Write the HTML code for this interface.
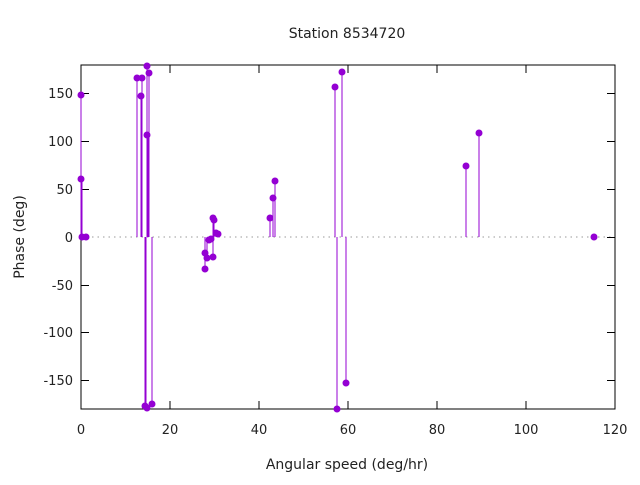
<!DOCTYPE html>
<html><head><style>body{margin:0;background:#fff}svg text{font-family:"DejaVu Sans","Liberation Sans",sans-serif;font-size:13px;fill:#222}</style></head><body>
<svg width="640" height="480" xmlns="http://www.w3.org/2000/svg">
<line x1="81" y1="237" x2="615" y2="237" stroke="#999" stroke-dasharray="1.5,4"/>
<g stroke="#000" stroke-width="1">
<rect x="81" y="65" width="534" height="344" fill="none"/>
<line x1="81" y1="93.5" x2="89" y2="93.5"/><line x1="81" y1="141.5" x2="89" y2="141.5"/><line x1="81" y1="189.5" x2="89" y2="189.5"/><line x1="81" y1="237.5" x2="89" y2="237.5"/><line x1="81" y1="285.5" x2="89" y2="285.5"/><line x1="81" y1="332.5" x2="89" y2="332.5"/><line x1="81" y1="380.5" x2="89" y2="380.5"/>
<line x1="607" y1="93.5" x2="615" y2="93.5"/><line x1="607" y1="141.5" x2="615" y2="141.5"/><line x1="607" y1="189.5" x2="615" y2="189.5"/><line x1="607" y1="237.5" x2="615" y2="237.5"/><line x1="607" y1="285.5" x2="615" y2="285.5"/><line x1="607" y1="332.5" x2="615" y2="332.5"/><line x1="607" y1="380.5" x2="615" y2="380.5"/>
<line x1="170" y1="409" x2="170" y2="401"/><line x1="259" y1="409" x2="259" y2="401"/><line x1="348" y1="409" x2="348" y2="401"/><line x1="437" y1="409" x2="437" y2="401"/><line x1="526" y1="409" x2="526" y2="401"/>
<line x1="170" y1="65" x2="170" y2="73"/><line x1="259" y1="65" x2="259" y2="73"/><line x1="348" y1="65" x2="348" y2="73"/><line x1="437" y1="65" x2="437" y2="73"/><line x1="526" y1="65" x2="526" y2="73"/>
</g>
<g text-anchor="end">
<text x="73" y="98">150</text><text x="73" y="146">100</text><text x="73" y="194">50</text><text x="73" y="242">0</text><text x="73" y="290">-50</text><text x="73" y="337">-100</text><text x="73" y="385">-150</text>
</g>
<g text-anchor="middle">
<text x="81" y="434">0</text><text x="170" y="434">20</text><text x="259" y="434">40</text><text x="348" y="434">60</text><text x="437" y="434">80</text><text x="526" y="434">100</text><text x="615" y="434">120</text>
<text x="347" y="469" style="font-size:14px">Angular speed (deg/hr)</text>
<text x="347" y="38" style="font-size:14px">Station 8534720</text>
<text transform="translate(24,237) rotate(-90)" style="font-size:14px">Phase (deg)</text>
</g>
<g stroke="#9400d3" stroke-width="1" shape-rendering="crispEdges">
<line x1="81" y1="237" x2="81" y2="95"/><line x1="82" y1="237" x2="82" y2="179"/>
<line x1="137" y1="237" x2="137" y2="78"/><line x1="141" y1="237" x2="141" y2="96"/><line x1="142" y1="237" x2="142" y2="78"/><line x1="147" y1="237" x2="147" y2="66"/><line x1="148" y1="237" x2="148" y2="135"/><line x1="149" y1="237" x2="149" y2="73"/>
<line x1="145" y1="237" x2="145" y2="406"/><line x1="146" y1="237" x2="146" y2="408"/><line x1="152" y1="237" x2="152" y2="404"/>
<line x1="205" y1="237" x2="205" y2="269"/><line x1="207" y1="237" x2="207" y2="258"/><line x1="213" y1="237" x2="213" y2="218"/><line x1="214" y1="237" x2="214" y2="220"/><line x1="213" y1="237" x2="213" y2="257"/><line x1="216" y1="237" x2="216" y2="233"/>
<line x1="270" y1="237" x2="270" y2="218"/><line x1="273" y1="237" x2="273" y2="198"/><line x1="275" y1="237" x2="275" y2="181"/>
<line x1="335" y1="237" x2="335" y2="87"/><line x1="337" y1="237" x2="337" y2="409"/><line x1="342" y1="237" x2="342" y2="72"/><line x1="346" y1="237" x2="346" y2="383"/>
<line x1="466" y1="237" x2="466" y2="166"/><line x1="479" y1="237" x2="479" y2="133"/>
</g>
<g fill="#9400d3">
<circle cx="81" cy="95" r="3.5"/><circle cx="81" cy="179" r="3.5"/><circle cx="82" cy="237" r="3.5"/><circle cx="86" cy="237" r="3.5"/>
<circle cx="137" cy="78" r="3.5"/><circle cx="141" cy="96" r="3.5"/><circle cx="142" cy="78" r="3.5"/><circle cx="147" cy="66" r="3.5"/><circle cx="147" cy="135" r="3.5"/><circle cx="149" cy="73" r="3.5"/>
<circle cx="145" cy="406" r="3.5"/><circle cx="147" cy="408" r="3.5"/><circle cx="152" cy="404" r="3.5"/>
<circle cx="205" cy="269" r="3.5"/><circle cx="205" cy="253" r="3.5"/><circle cx="207" cy="258" r="3.5"/><circle cx="209" cy="240" r="3.5"/><circle cx="211" cy="239" r="3.5"/><circle cx="213" cy="218" r="3.5"/><circle cx="214" cy="220" r="3.5"/><circle cx="216" cy="233" r="3.5"/><circle cx="213" cy="257" r="3.5"/><circle cx="218" cy="234" r="3.5"/>
<circle cx="270" cy="218" r="3.5"/><circle cx="273" cy="198" r="3.5"/><circle cx="275" cy="181" r="3.5"/>
<circle cx="335" cy="87" r="3.5"/><circle cx="337" cy="409" r="3.5"/><circle cx="342" cy="72" r="3.5"/><circle cx="346" cy="383" r="3.5"/>
<circle cx="466" cy="166" r="3.5"/><circle cx="479" cy="133" r="3.5"/><circle cx="594" cy="237" r="3.5"/>
</g>
</svg>
</body></html>
